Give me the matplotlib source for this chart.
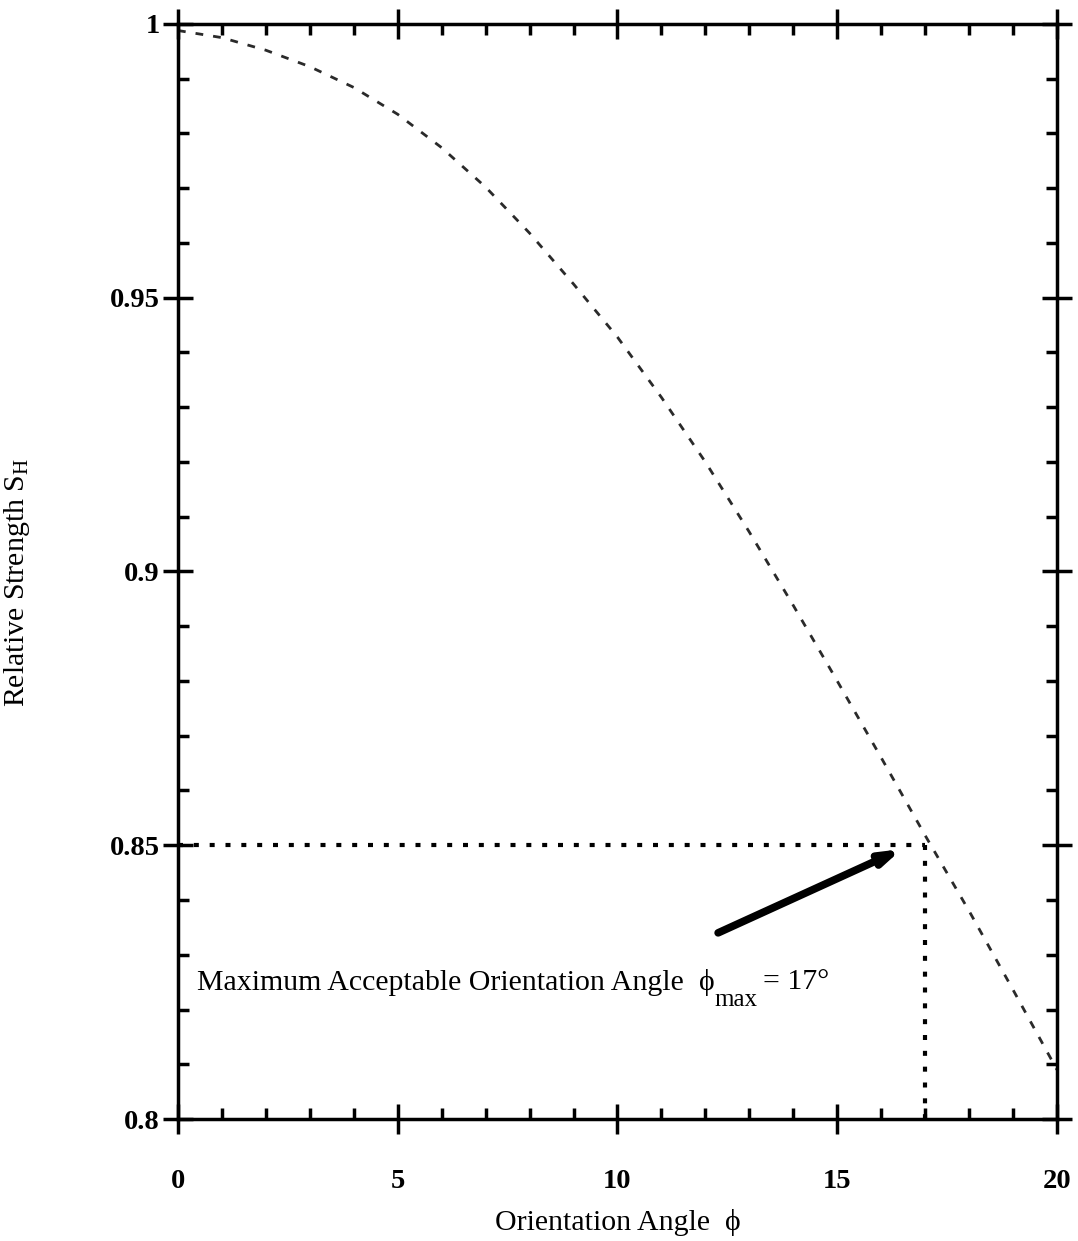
import matplotlib.pyplot as plt
import numpy as np

plt.rcParams['font.family'] = ['Liberation Serif', 'DejaVu Serif']
plt.rcParams['mathtext.fontset'] = 'custom'
plt.rcParams['mathtext.rm'] = 'Liberation Serif'
plt.rcParams['mathtext.it'] = 'Liberation Serif:italic'
plt.rcParams['mathtext.bf'] = 'Liberation Serif:bold'

# values
angle = [0, 1, 2, 3, 4, 5, 6, 7, 8, 9, 10, 11, 12, 13, 14, 15, 16, 17, 18, 19, 20]
strength = [0.9988, 0.9975, 0.9952, 0.9922, 0.9884, 0.9835, 0.9774, 0.9702, 0.9618,
            0.9525, 0.9428, 0.9318, 0.9200, 0.9072, 0.8938, 0.8800, 0.8660, 0.8518,
            0.8380, 0.8236, 0.8090]
s_limit = 0.85
phi_max = 17
x_ticks = [0, 5, 10, 15, 20]
y_ticks = [0.8, 0.85, 0.9, 0.95, 1.0]
y_tick_labels = ['0.8', '0.85', '0.9', '0.95', '1']

fig = plt.figure(figsize=(10.78, 12.41), dpi=100)
ax = fig.add_axes([0.1651, 0.0983, 0.8154, 0.8824])

ax.plot(angle, strength, color='#2a2a2a', lw=2, linestyle=(0, (2.8, 3.6)))

# dotted limit lines
ax.plot([0, phi_max], [s_limit, s_limit], color='black', lw=3, linestyle=(0, (1.2, 2.6)))
ax.plot([phi_max, phi_max], [s_limit, 0.8], color='black', lw=3, linestyle=(0, (1.2, 2.6)))

ax.annotate('', xy=(16.47, 0.8493), xytext=(12.29, 0.8340),
            arrowprops=dict(arrowstyle='-|>,head_length=1.1,head_width=0.35',
                            color='black', lw=5.5, shrinkA=0, shrinkB=0))

fs = 21.5
ax.text(0.43, 0.8248, 'Maximum Acceptable Orientation Angle', fontsize=fs,
        ha='left', va='center')
ax.text(11.86, 0.8250, '\u03d5', fontsize=fs, ha='left', va='center')
ax.text(12.2, 0.8218, 'max', fontsize=18, ha='left', va='center')
ax.text(13.3, 0.8250, '= 17\u00b0', fontsize=fs, ha='left', va='center')

ax.set_xlim(0, 20)
ax.set_ylim(0.8, 1.0)
ax.set_xticks(x_ticks)
ax.set_yticks(y_ticks)
ax.set_yticklabels(y_tick_labels)
ax.set_xticks(np.arange(0, 21, 1), minor=True)
ax.set_yticks(np.arange(0.8, 1.0001, 0.01), minor=True)

ax.tick_params(which='major', direction='inout', length=22, width=2.5,
               top=True, right=True, labelsize=20.5)
ax.tick_params(which='minor', direction='in', length=8, width=2.5,
               top=True, right=True)
ax.tick_params(axis='x', which='major', pad=25)
ax.tick_params(axis='y', which='major', pad=2)
for lab in ax.get_xticklabels() + ax.get_yticklabels():
    lab.set_fontweight('bold')
for sp in ax.spines.values():
    sp.set_linewidth(2.5)

ax.set_xlabel('Orientation Angle  \u03d5', fontsize=fs)
ax.set_ylabel(r'Relative Strength S$_{\mathrm{H}}$', fontsize=fs)
ax.xaxis.set_label_coords(0.5, -0.082)
ax.yaxis.set_label_coords(-0.166, 0.49)

fig.savefig('out.png', dpi=100)
